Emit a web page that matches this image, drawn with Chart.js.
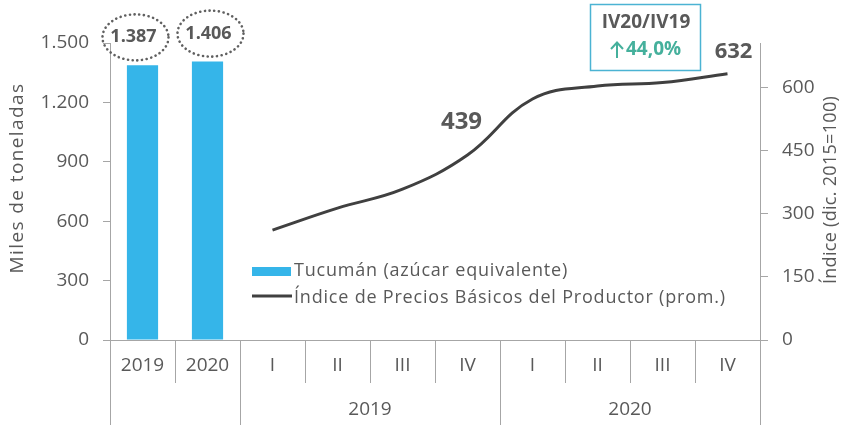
<!DOCTYPE html>
<html lang="es">
<head>
  <meta charset="UTF-8">
  <title>Tucumán - producción de azúcar</title>
  <script src="https://cdn.jsdelivr.net/npm/chart.js"></script>
  <style>
    * { margin: 0; padding: 0; box-sizing: border-box; }
    body { background: #fff; width: 843px; height: 425px; overflow: hidden; }
    #wrap { position: relative; width: 843px; height: 425px; }
  </style>
</head>
<body>
  <div id="wrap"><canvas id="chart"></canvas></div>

  <script>
    // data
    const categories = ['2019', '2020', 'I', 'II', 'III', 'IV', 'I', 'II', 'III', 'IV'];
    const groupLabels = ['2019', '2020'];
    const groupStart = [2, 6];
    const groupEnd = [5, 9];
    const production = [1387, 1406, null, null, null, null, null, null, null, null];
    const priceIndex = [null, null, 261, 313, 358, 439, 572, 603, 611, 632];
    const leftTicks = [0, 300, 600, 900, 1200, 1500];
    const rightTicks = [0, 150, 300, 450, 600];

    const FONT = "'Open Sans', 'Noto Sans', sans-serif";
    const textGray = '#595959';
    const axisGray = '#a6a6a6';
    const barBlue = '#35b5e9';
    const lineGray = '#404040';
    const teal = '#45b09c';

    const thousands = v => String(v).replace(/\B(?=(\d{3})+(?!\d))/g, '.');

    function vText(ctx, text, x, y, spacing) {
      ctx.save();
      ctx.translate(x, y);
      ctx.rotate(-Math.PI / 2);
      ctx.letterSpacing = spacing;
      ctx.fillText(text, 0, 0);
      ctx.restore();
    }

    // separators, group labels, legend, axis titles and callouts
    const decor = {
      id: 'decor',
      afterDraw(chart) {
        const { ctx, scales: { x, y, y1 }, chartArea } = chart;
        const step = x.getPixelForTick(1) - x.getPixelForTick(0);
        const edge = i => x.getPixelForTick(0) - step / 2 + i * step;
        const bottom = chartArea.bottom;

        ctx.save();
        ctx.strokeStyle = axisGray;
        ctx.lineWidth = 1;
        for (let i = 0; i <= categories.length; i++) {
          const long = i === 0 || i === categories.length || groupStart.includes(i);
          const px = Math.round(edge(i)) + 0.5;
          ctx.beginPath();
          ctx.moveTo(px, bottom);
          ctx.lineTo(px, long ? 425 : 383);
          ctx.stroke();
        }

        ctx.fillStyle = textGray;
        ctx.font = `19px ${FONT}`;
        ctx.textAlign = 'center';
        ctx.textBaseline = 'middle';
        groupLabels.forEach((g, k) => {
          ctx.fillText(g, (edge(groupStart[k]) + edge(groupEnd[k] + 1)) / 2, 410);
        });

        // axis titles (both read bottom to top)
        vText(ctx, 'Miles de toneladas', 18, 178, '1.4px');
        ctx.font = `18px ${FONT}`;
        vText(ctx, 'Índice (dic. 2015=100)', 831, 190, '0.3px');

        // legend
        ctx.fillStyle = barBlue;
        ctx.fillRect(252, 267, 39, 9);
        ctx.strokeStyle = lineGray;
        ctx.lineWidth = 3;
        ctx.beginPath();
        ctx.moveTo(252, 296);
        ctx.lineTo(292, 296);
        ctx.stroke();
        ctx.fillStyle = textGray;
        ctx.font = `18px ${FONT}`;
        ctx.textAlign = 'left';
        ctx.save();
        ctx.letterSpacing = '0.8px';
        ctx.fillText('Tucumán (azúcar equivalente)', 294, 271);
        ctx.fillText('Índice de Precios Básicos del Productor (prom.)', 294, 298);
        ctx.restore();

        // bar value labels with dotted ellipses
        const labelDx = [-9, 1];
        ctx.font = `bold 18px ${FONT}`;
        ctx.textAlign = 'center';
        [0, 1].forEach(i => {
          const cx = x.getPixelForValue(i) + labelDx[i];
          const cy = y.getPixelForValue(production[i]) - 28;
          ctx.fillStyle = textGray;
          ctx.fillText(thousands(production[i]), cx, cy);
          ctx.save();
          ctx.strokeStyle = '#606060';
          ctx.lineWidth = 2.6;
          ctx.lineCap = 'round';
          ctx.setLineDash([0.1, 4.6]);
          ctx.beginPath();
          ctx.ellipse(cx + 2, cy, 33, 23, 0, 0, Math.PI * 2);
          ctx.stroke();
          ctx.restore();
        });

        // line value labels
        ctx.fillStyle = textGray;
        ctx.font = `bold 24px ${FONT}`;
        ctx.fillText(String(priceIndex[5]), x.getPixelForValue(5) - 6, y1.getPixelForValue(priceIndex[5]) - 33);
        ctx.font = `bold 22px ${FONT}`;
        ctx.fillText(String(priceIndex[9]), x.getPixelForValue(9) + 6, y1.getPixelForValue(priceIndex[9]) - 22);

        // variation box
        ctx.strokeStyle = '#4bb3d3';
        ctx.lineWidth = 1.5;
        ctx.strokeRect(590.5, 4.5, 110, 66);
        ctx.font = `bold 19px ${FONT}`;
        ctx.fillStyle = textGray;
        ctx.fillText('IV20/IV19', 646, 23);
        const pct = ((priceIndex[9] / priceIndex[5] - 1) * 100).toFixed(1).replace('.', ',');
        ctx.fillStyle = teal;
        ctx.textAlign = 'left';
        ctx.fillText(pct + '%', 626, 50);
        // up arrow
        ctx.strokeStyle = teal;
        ctx.lineWidth = 2;
        ctx.beginPath();
        ctx.moveTo(617, 58);
        ctx.lineTo(617, 43);
        ctx.moveTo(611, 49);
        ctx.lineTo(617, 42.5);
        ctx.lineTo(623, 49);
        ctx.stroke();
        ctx.restore();
      }
    };

    new Chart(document.getElementById('chart'), {
      data: {
        labels: categories,
        datasets: [
          {
            type: 'bar',
            label: 'Tucumán (azúcar equivalente)',
            data: production,
            backgroundColor: barBlue,
            categoryPercentage: 1,
            barPercentage: 0.48,
            yAxisID: 'y',
            order: 2
          },
          {
            type: 'line',
            label: 'Índice de Precios Básicos del Productor (prom.)',
            data: priceIndex,
            borderColor: lineGray,
            borderWidth: 3,
            pointRadius: 0,
            tension: 0.4,
            spanGaps: false,
            yAxisID: 'y1',
            order: 1
          }
        ]
      },
      options: {
        responsive: true,
        maintainAspectRatio: false,
        animation: false,
        layout: { padding: { top: 43, left: 0, right: 0, bottom: 0 } },
        plugins: {
          legend: { display: false },
          tooltip: { enabled: false }
        },
        scales: {
          x: {
            grid: { display: false, drawTicks: false },
            border: { display: true, color: axisGray },
            ticks: { color: textGray, font: { family: FONT, size: 19 }, padding: 14, maxRotation: 0, autoSkip: false },
            afterFit: s => { s.height = 85; }
          },
          y: {
            position: 'left',
            min: 0,
            max: 1500,
            afterBuildTicks: s => { s.ticks = leftTicks.map(v => ({ value: v })); },
            grid: { drawOnChartArea: false, drawTicks: true, tickLength: 7, color: axisGray },
            border: { color: axisGray },
            ticks: { color: textGray, font: { family: FONT, size: 19 }, padding: 14, callback: v => thousands(v) },
            afterFit: s => { s.width = 110; }
          },
          y1: {
            position: 'right',
            min: 0,
            max: 705,
            afterBuildTicks: s => { s.ticks = rightTicks.map(v => ({ value: v })); },
            grid: { drawOnChartArea: false, drawTicks: true, tickLength: 8, color: axisGray },
            border: { color: axisGray },
            ticks: { color: textGray, font: { family: FONT, size: 19 }, padding: 14 },
            afterFit: s => { s.width = 83; }
          }
        }
      },
      plugins: [decor]
    });
  </script>
</body>
</html>
